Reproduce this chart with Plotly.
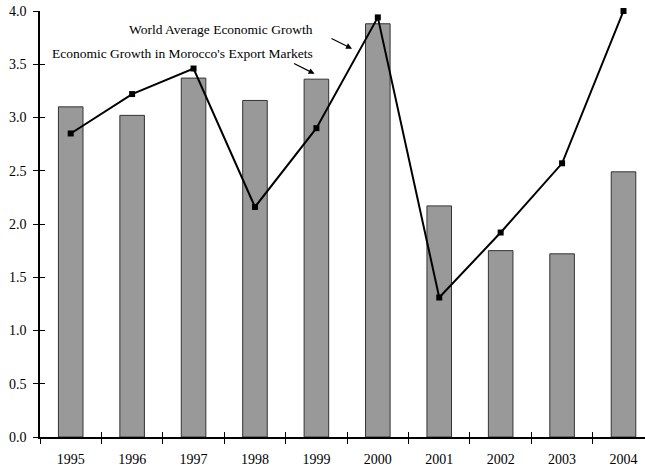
import plotly.graph_objects as go

years = [1995, 1996, 1997, 1998, 1999, 2000, 2001, 2002, 2003, 2004]
export_markets_growth = [3.10, 3.02, 3.37, 3.16, 3.36, 3.88, 2.17, 1.75, 1.72, 2.49]
world_growth = [2.85, 3.22, 3.46, 2.16, 2.90, 3.94, 1.31, 1.92, 2.57, 4.00]
y_ticks = [0.0, 0.5, 1.0, 1.5, 2.0, 2.5, 3.0, 3.5, 4.0]
label_world = "World Average Economic Growth"
label_export = "Economic Growth in Morocco's Export Markets"

boundaries = [y - 0.5 for y in years]
FONT = "Liberation Serif, Times New Roman, serif"

fig = go.Figure()
fig.add_trace(go.Bar(
    x=years, y=export_markets_growth, width=0.4,
    marker=dict(color="#999999", line=dict(color="#333333", width=1)),
    name=label_export, showlegend=False,
))
fig.add_trace(go.Scatter(
    x=years, y=world_growth, mode="lines+markers",
    line=dict(color="black", width=2),
    marker=dict(symbol="square", size=6, color="black"),
    name=label_world, showlegend=False, cliponaxis=False,
))
# invisible helper trace so the overlay axes (for crossing tick marks) are drawn
fig.add_trace(go.Scatter(
    x=years, y=world_growth, mode="markers", marker=dict(opacity=0),
    xaxis="x2", yaxis="y2", showlegend=False, hoverinfo="skip",
))

x_range = [1994.5, 2004.35]
fig.update_layout(
    width=645, height=472,
    margin=dict(l=40, r=0, t=11, b=35, autoexpand=False),
    paper_bgcolor="white", plot_bgcolor="white",
    font=dict(family=FONT, size=14, color="black"),
    xaxis=dict(
        range=x_range, tickmode="array", tickvals=years,
        ticktext=[str(y) for y in years], ticks="",
        showline=True, linecolor="black", linewidth=1.5,
        showgrid=False, zeroline=False, ticklabelstandoff=8,
        minor=dict(tickmode="array", tickvals=boundaries, ticks="outside",
                   ticklen=5, tickcolor="black", tickwidth=1.2),
    ),
    yaxis=dict(
        range=[0, 4], tickmode="array", tickvals=y_ticks,
        tickformat=".1f", ticks="outside", ticklen=5, tickwidth=1.2,
        tickcolor="black", showline=True, linecolor="black", linewidth=1.5,
        showgrid=False, zeroline=False, ticklabelstandoff=4,
    ),
    xaxis2=dict(
        overlaying="x", anchor="y", range=x_range, tickmode="array",
        tickvals=boundaries, ticks="inside", ticklen=5, tickwidth=1.2,
        tickcolor="black", showticklabels=False, showline=False,
        showgrid=False, zeroline=False,
    ),
    yaxis2=dict(
        overlaying="y", anchor="x", range=[0, 4], tickmode="array",
        tickvals=y_ticks, ticks="inside", ticklen=5, tickwidth=1.2,
        tickcolor="black", showticklabels=False, showline=False,
        showgrid=False, zeroline=False,
    ),
    bargap=0.6,
)

fig.add_annotation(
    x=1998.97, y=3.83, xref="x", yref="y", text=label_world,
    showarrow=False, xanchor="right", yanchor="middle",
    font=dict(family=FONT, size=13.5, color="black"),
)
fig.add_annotation(
    x=1998.97, y=3.60, xref="x", yref="y", text=label_export,
    showarrow=False, xanchor="right", yanchor="middle",
    font=dict(family=FONT, size=13.5, color="black"),
)
fig.add_annotation(
    x=1999.58, y=3.646, xref="x", yref="y", text="",
    showarrow=True, arrowhead=2, arrowsize=1, arrowwidth=1.2,
    arrowcolor="black", ax=-22, ay=-11, standoff=0,
)
fig.add_annotation(
    x=1998.97, y=3.41, xref="x", yref="y", text="",
    showarrow=True, arrowhead=2, arrowsize=1, arrowwidth=1.2,
    arrowcolor="black", ax=-22, ay=-11, standoff=0,
)

fig.write_html(
    "out.html",
    config={"displayModeBar": False},
    post_script="document.body.style.margin='0px';document.body.style.overflow='hidden';",
)
